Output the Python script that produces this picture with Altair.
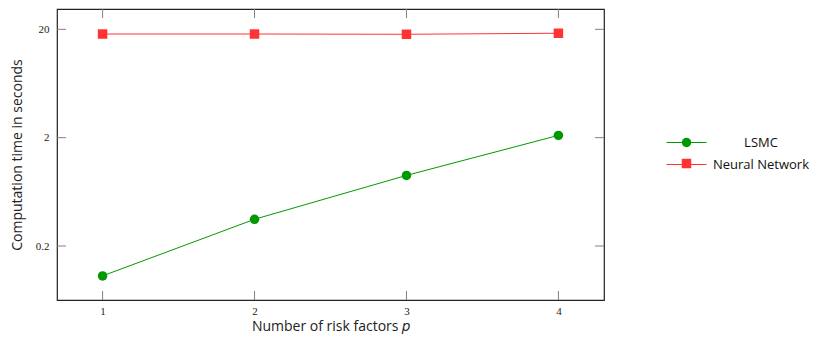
import altair as alt
import pandas as pd

p_values = [1, 2, 3, 4]
lsmc_times = [0.106, 0.353, 0.897, 2.10]
nn_times = [18.1, 18.1, 18.0, 18.4]
series_names = ["LSMC", "Neural Network"]
series_colors = ["#009900", "#ff3333"]
x_tick_values = [1, 2, 3, 4]
y_tick_values = [0.2, 2, 20]

rows = []
for p, v in zip(p_values, lsmc_times):
    rows.append({"p": p, "time": v, "method": "LSMC"})
for p, v in zip(p_values, nn_times):
    rows.append({"p": p, "time": v, "method": "Neural Network"})
df = pd.DataFrame(rows)

W, H = 547, 291
TICK = 9

x_scale = alt.Scale(domain=[0.7, 4.3], nice=False, zero=False)
y_scale = alt.Scale(type="log", domain=[0.0635, 30.8], nice=False)

LABEL_FONT = "Liberation Serif"
TITLE_FONT = "Open Sans"

x_enc = alt.X("p:Q", scale=x_scale,
              axis=alt.Axis(values=x_tick_values, format="d", title="Number of risk factors 𝑝",
                            tickSize=0, domain=False, grid=False, labelPadding=5,
                            labelFont=LABEL_FONT, labelFontSize=11, labelColor="#222",
                            titleFont=TITLE_FONT, titleFontSize=14, titleFontWeight="normal",
                            titleColor="#222", titlePadding=3))
y_enc = alt.Y("time:Q", scale=y_scale,
              axis=alt.Axis(values=y_tick_values, title="Computation time in seconds",
                            tickSize=0, domain=False, grid=False, labelPadding=8,
                            labelFont=LABEL_FONT, labelFontSize=11, labelColor="#222",
                            labelExpr="datum.value == 0.2 ? '0.2' : format(datum.value, 'd')",
                            titleFont=TITLE_FONT, titleFontSize=14, titleFontWeight="normal",
                            titleColor="#222", titlePadding=11))

LEG_X, LEG_Y, FS, ROWPAD = 623, 127, 13, 8
ROW_STEP = FS + ROWPAD

line_legend = alt.Legend(orient="none", legendX=LEG_X, legendY=LEG_Y, title=None,
                         symbolType="M-4,0H4", symbolSize=100, symbolStrokeWidth=1.2,
                         labelOffset=68, labelAlign="center", labelFont=TITLE_FONT,
                         labelFontSize=FS, labelColor="#111", rowPadding=ROWPAD, padding=0)


def marker_legend(row, shape):
    return alt.Legend(orient="none", legendX=LEG_X, legendY=LEG_Y + row * ROW_STEP, title=None,
                      symbolType=shape, symbolSize=90, symbolOpacity=1, symbolStrokeWidth=0,
                      labelExpr="' '", labelFont=TITLE_FONT, labelFontSize=FS, padding=0)


lines = alt.Chart(df).mark_line(strokeWidth=1).encode(
    x=x_enc, y=y_enc,
    color=alt.Color("method:N", scale=alt.Scale(domain=series_names, range=series_colors),
                    legend=line_legend),
)

marker_shapes = ["circle", "square"]
marker_layers = []
for i, (name, col, shp) in enumerate(zip(series_names, series_colors, marker_shapes)):
    layer = alt.Chart(df).transform_filter(alt.datum.method == name).mark_point(
        filled=True, size=90, opacity=1, shape=shp
    ).encode(
        x=alt.X("p:Q", scale=x_scale),
        y=alt.Y("time:Q", scale=y_scale),
        color=alt.Color("method:N", scale=alt.Scale(domain=[name], range=[col]),
                        legend=marker_legend(i, shp)),
    )
    marker_layers.append(layer)

xt = pd.DataFrame({"p": x_tick_values})
yt = pd.DataFrame({"time": y_tick_values})
tick_color = "#808080"

x_ticks_bottom = alt.Chart(xt).mark_rule(color=tick_color, strokeWidth=1).encode(
    x=alt.X("p:Q", scale=x_scale), y=alt.value(H - TICK), y2=alt.value(H))
x_ticks_top = alt.Chart(xt).mark_rule(color=tick_color, strokeWidth=1).encode(
    x=alt.X("p:Q", scale=x_scale), y=alt.value(0), y2=alt.value(TICK))
y_ticks_left = alt.Chart(yt).mark_rule(color=tick_color, strokeWidth=1).encode(
    y=alt.Y("time:Q", scale=y_scale), x=alt.value(0), x2=alt.value(TICK))
y_ticks_right = alt.Chart(yt).mark_rule(color=tick_color, strokeWidth=1).encode(
    y=alt.Y("time:Q", scale=y_scale), x=alt.value(W - TICK), x2=alt.value(W))

chart = alt.layer(
    x_ticks_bottom, x_ticks_top, y_ticks_left, y_ticks_right, lines, *marker_layers
).resolve_scale(color="independent").properties(
    width=W, height=H,
    autosize=alt.AutoSizeParams(type="none"),
    padding={"left": 49, "top": 1, "right": 206, "bottom": 34},
).configure_view(stroke="#222", strokeWidth=1.2)

chart.save("out.html", embed_options={"renderer": "svg", "actions": False})
